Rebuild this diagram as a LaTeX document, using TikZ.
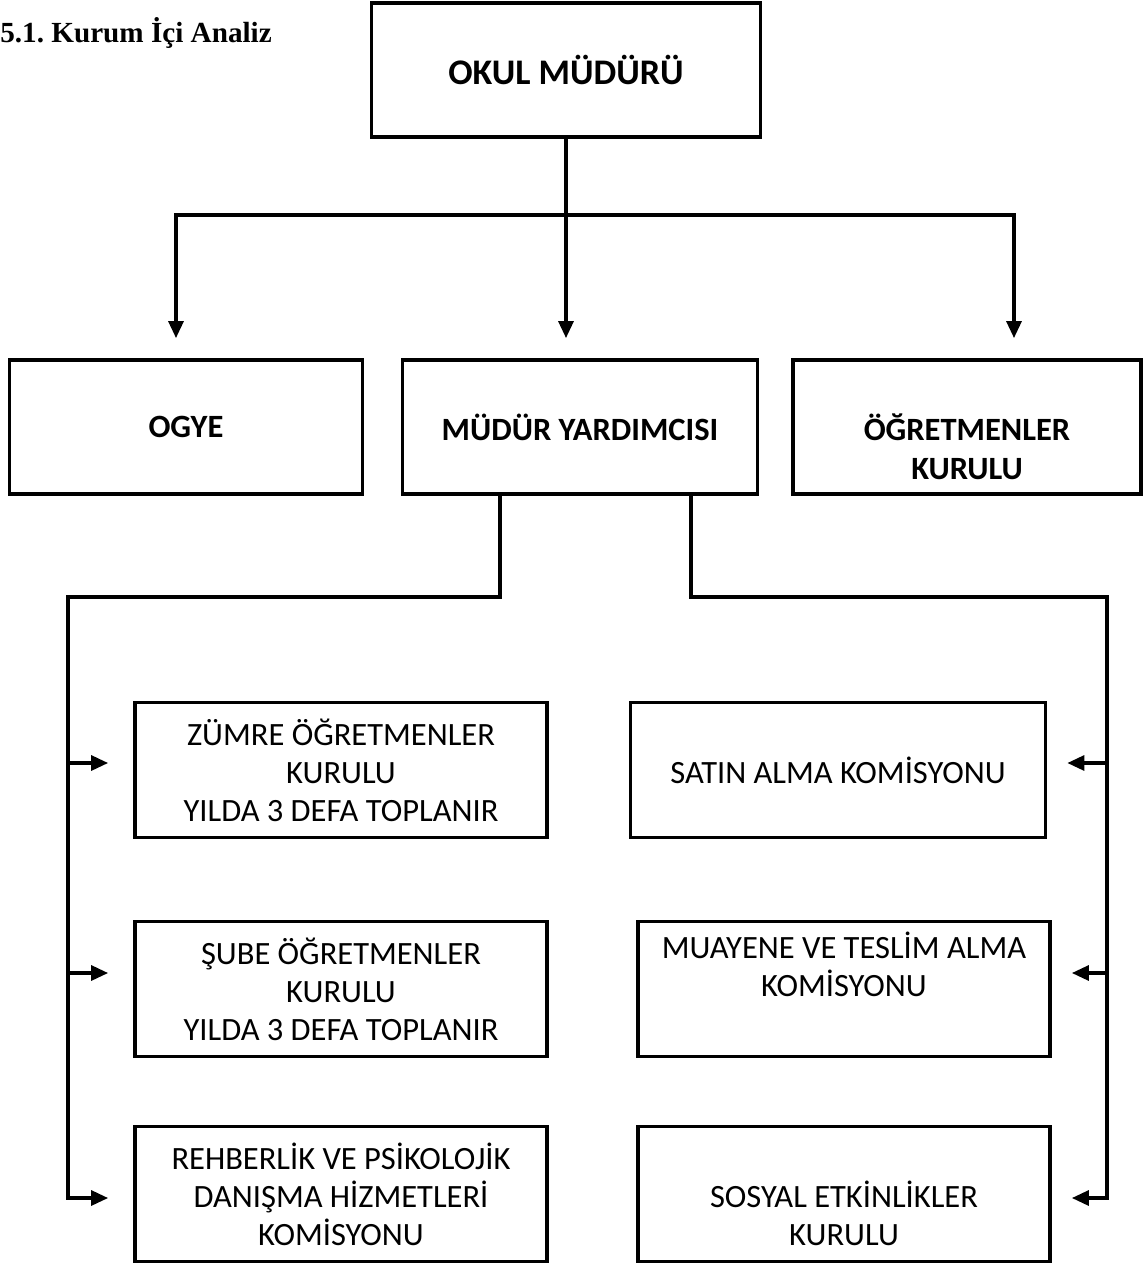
\documentclass[tikz,border=0pt]{standalone}
\usepackage{fontspec}
\setmainfont{Carlito}
\newfontfamily\titlefont{Liberation Serif}
\usetikzlibrary{arrows.meta}

\tikzset{
  box/.style={draw, line width=2.2pt, align=center, inner sep=0pt, font=\fontsize{18.5}{21.6}\selectfont},
  headbox/.style={box, minimum height=2.68cm, font=\fontsize{18.5}{22}\selectfont\bfseries},
  lowbox/.style={box, minimum width=8.24cm, minimum height=2.7cm},
  link/.style={line width=1.8pt, >={Triangle[length=0.34cm, width=0.3cm]}},
}

\begin{document}
\begin{tikzpicture}[x=0.02cm, y=-0.02cm]
  \useasboundingbox (0,0) rectangle (1143,1265);

  \node[anchor=west, inner sep=0pt, font=\titlefont\fontsize{16.6}{19}\selectfont\bfseries] (title) at (0,33) {5.1.\ Kurum İçi Analiz};

  % top levels
  \node[headbox, minimum width=7.78cm, font=\fontsize{20.5}{24}\selectfont\bfseries] (okul) at (566,70) {OKUL MÜDÜRÜ};
  \node[headbox, minimum width=7.06cm] (ogye) at (186,427) {OGYE};
  \node[headbox, minimum width=7.1cm] (mudur) at (580,427) {MÜDÜR YARDIMCISI};
  \node[headbox, minimum width=6.96cm] (ogret) at (967,427) {\strut\\ ÖĞRETMENLER\\ KURULU};

  % left column
  \node[lowbox] (zumre) at (341,770) {ZÜMRE ÖĞRETMENLER\\ KURULU\\ YILDA 3 DEFA TOPLANIR};
  \node[lowbox] (sube) at (341,989) {ŞUBE ÖĞRETMENLER\\ KURULU\\ YILDA 3 DEFA TOPLANIR};
  \node[lowbox] (rehber) at (341,1194) {REHBERLİK VE PSİKOLOJİK\\ DANIŞMA HİZMETLERİ\\ KOMİSYONU};

  % right column
  \node[lowbox, minimum width=8.3cm] (satin) at (838,770) {SATIN ALMA KOMİSYONU};
  \node[lowbox] (muayene) at (844,989) {MUAYENE VE TESLİM ALMA\\ KOMİSYONU\\ \strut};
  \node[lowbox] (sosyal) at (844,1194) {\strut\\ SOSYAL ETKİNLİKLER\\ KURULU};

  \coordinate (busL) at (176,215);
  \coordinate (busR) at (1014,215);
  \coordinate (myL) at (500,597);
  \coordinate (myR) at (691,597);
  \coordinate (trunkL) at (68,597);
  \coordinate (trunkR) at (1107,597);
  \coordinate (row1) at (0,763);
  \coordinate (row2) at (0,973);
  \coordinate (row3) at (0,1198);

  \draw[link, ->, shorten >=0.4cm] (okul.south) -- (okul.south |- mudur.north);
  \draw[link, ->, shorten >=0.4cm] (okul.south |- busL) -| (busL |- ogye.north);
  \draw[link, ->, shorten >=0.4cm] (okul.south |- busR) -| (busR |- ogret.north);

  \draw[link, ->, shorten >=0.5cm] (myL |- mudur.south) -- (myL) -- (trunkL) -- (trunkL |- row3) -- (rehber.west |- row3);
  \draw[link, ->, shorten >=0.5cm] (trunkL |- row1) -- (zumre.west |- row1);
  \draw[link, ->, shorten >=0.5cm] (trunkL |- row2) -- (sube.west |- row2);

  \draw[link, ->, shorten >=0.4cm] (myR |- mudur.south) -- (myR) -- (trunkR) -- (trunkR |- row3) -- (sosyal.east |- row3);
  \draw[link, ->, shorten >=0.4cm] (trunkR |- row1) -- (satin.east |- row1);
  \draw[link, ->, shorten >=0.4cm] (trunkR |- row2) -- (muayene.east |- row2);
\end{tikzpicture}
\end{document}
